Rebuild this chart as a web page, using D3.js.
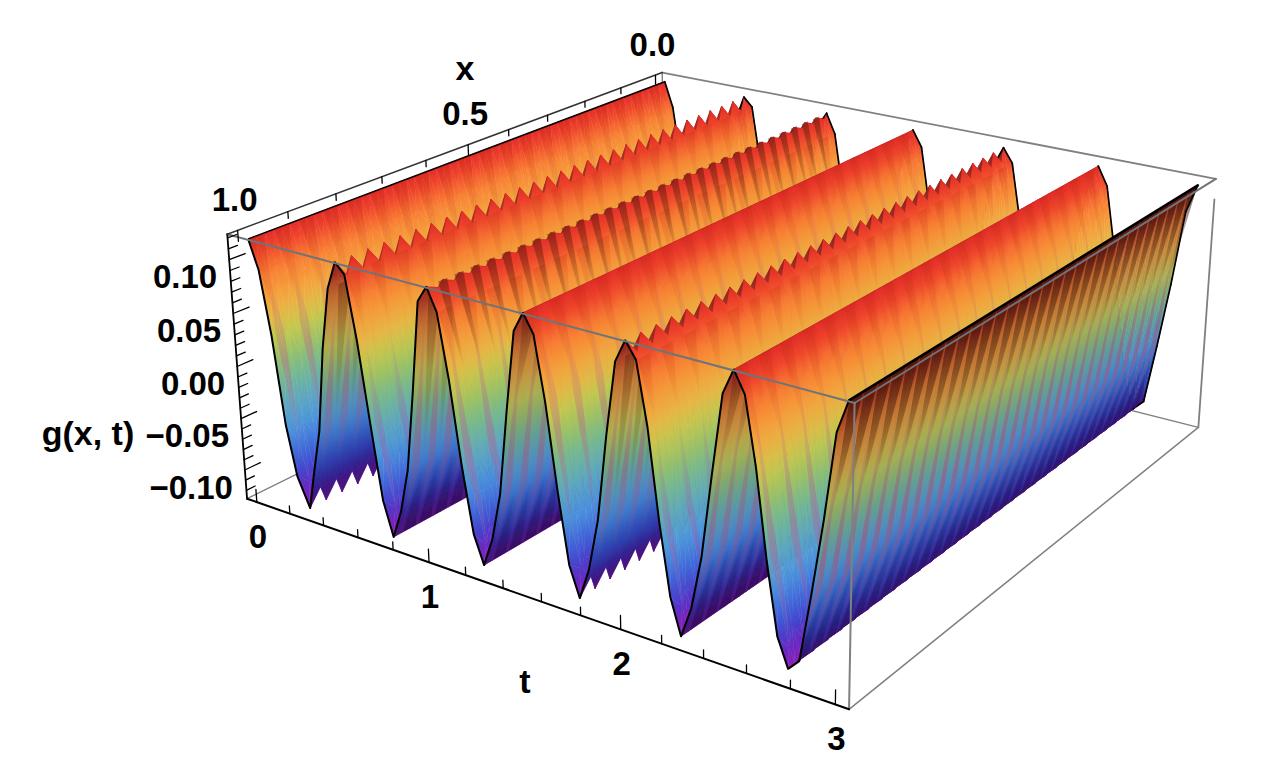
<!DOCTYPE html>
<html><head><meta charset="utf-8">
<script src="https://cdnjs.cloudflare.com/ajax/libs/d3/7.8.5/d3.min.js"></script>
<style>html,body{margin:0;padding:0;background:#fff}svg{display:block}text{font-family:"Liberation Sans",Arial,sans-serif;font-weight:bold;fill:#000}</style>
</head><body><div id="c"></div>
<script>
// ---------- data ----------
const tRowA = [0,.05,.1,.15,.2,.265,.3,.35,.4,.45,.5,.55,.6,.65,.7,.75,.8,.85,.9,.95,1,1.05,1.1,1.15,1.2,1.25,1.3,1.35,1.4,1.45,1.5,1.55,1.6,1.65,1.7,1.75,1.8,1.85,1.9,1.95,2,2.05,2.1,2.15,2.2,2.25,2.3,2.35,2.4,2.45,2.5,2.55,2.6,2.65,2.7,2.75,2.8,2.85,2.9,2.95,3];
const gRowA = [.118,.0915,.033,-.05,-.097,-.124,-.09,-.045,.035,.092,.118,.109,.052,-.022,-.092,-.124,-.097,-.055,.02,.103,.118,.098,.04,-.035,-.095,-.121,-.094,-.05,.028,.1,.118,.102,.045,-.03,-.094,-.121,-.092,-.045,.032,.098,.118,.104,.05,-.028,-.092,-.124,-.096,-.048,.026,.096,.118,.1,.043,-.033,-.095,-.12,-.11,-.05,.015,.09,.118];
const tRowB = [0,.07,.12,.17,.22,.285,.32,.37,.42,.47,.52,.57,.62,.67,.72,.75,.82,.87,.92,.97,1.02,1.07,1.12,1.17,1.22,1.25,1.32,1.37,1.42,1.47,1.5,1.57,1.62,1.67,1.72,1.77,1.82,1.87,1.92,1.97,2.02,2.07,2.12,2.17,2.22,2.25,2.32,2.37,2.42,2.47,2.5,2.57,2.62,2.67,2.72,2.75,2.82,2.87,2.92,2.97,3];
const gRowB = [.118,.075,.005,-.068,-.104,-.106,-.072,-.012,.06,.098,.104,.086,.024,-.05,-.102,-.124,-.082,-.028,.052,.112,.115,.078,.012,-.058,-.108,-.121,-.078,-.02,.058,.11,.118,.082,.018,-.055,-.1,-.104,-.076,-.016,.06,.102,.106,.084,.022,-.052,-.104,-.124,-.08,-.02,.054,.11,.118,.08,.016,-.058,-.108,-.12,-.1,-.024,.046,.112,.118];
const ridgeIndex = [0,10,20,30,40,50];
const toothedRidges = [10,20,40];
const toothedValleys = [5,35];
const shadowedRidges = [20];
const tLabels = ["0","1","2","3"];
const xLabels = ["0.0","0.5","1.0"];
const zLabels = ["0.10","0.05","0.00","\u22120.05","\u22120.10"];
const zStops = [-.118,-.11,-.098,-.08,-.055,-.03,-.005,.015,.033,.05,.07,.09,.105,.118];
const zColors = ["#8a20b8","#6f25c0","#4a3ac8","#3f62d8","#4c94dc","#60a9bc","#78ba8c","#9ec263","#c6c84e","#e8b645","#f69c3a","#f87a32","#f0462c","#e22c28"];

// ---------- scales and projection ----------
const W=1263,H=774;
const uS=d3.scaleLinear([-.06,3.06],[0,1]);
const vS=d3.scaleLinear([1.02,-.02],[0,1]);
const wS=d3.scaleLinear([-.1283,.1234],[0,1]);
const colorS=d3.scaleLinear(zStops,zColors).interpolate(d3.interpolateRgb).clamp(true);
const riseShade=d3.scaleLinear([-.118,-.09,-.04,.03,.08,.118],[.55,.68,.85,.88,.78,.62]).clamp(true);

const cube=[[0,0,0,248,503],[1,0,0,849,708],[0,0,1,226,235],[1,0,1,855,398],[0,1,1,662,76],[1,1,1,1217,178],[1,1,0,1197,433],[0,1,0,665,285]];
function fit(){
  const A=[],b=[];
  cube.forEach(([u,v,w,X,Y])=>{
    A.push([u,v,w,1,0,0,0,0,-X*u,-X*v,-X*w]);b.push(X);
    A.push([0,0,0,0,u,v,w,1,-Y*u,-Y*v,-Y*w]);b.push(Y);
  });
  const n=11,M=d3.range(n).map(i=>d3.range(n+1).map(j=>j<n?d3.sum(A,r=>r[i]*r[j]):d3.sum(A,(r,k)=>r[i]*b[k])));
  for(let i=0;i<n;i++){
    let p=i;for(let k=i+1;k<n;k++)if(Math.abs(M[k][i])>Math.abs(M[p][i]))p=k;
    [M[i],M[p]]=[M[p],M[i]];
    for(let k=0;k<n;k++)if(k!==i){const f=M[k][i]/M[i][i];for(let j=i;j<=n;j++)M[k][j]-=f*M[i][j];}
  }
  return M.map((r,i)=>r[n]/r[i]);
}
const h=fit();
function cubeP(u,v,w){const d=1+h[8]*u+h[9]*v+h[10]*w;return [(h[0]*u+h[1]*v+h[2]*w+h[3])/d,(h[4]*u+h[5]*v+h[6]*w+h[7])/d];}
const proj=(t,x,z)=>cubeP(uS(t),vS(x),wS(z));

// ---------- svg ----------
const svg=d3.select("#c").append("svg").attr("width",W).attr("height",H).attr("viewBox",`0 0 ${W} ${H}`);
const defs=svg.append("defs");
defs.append("filter").attr("id","soft").attr("filterUnits","userSpaceOnUse").attr("x",0).attr("y",0).attr("width",W).attr("height",H)
  .append("feGaussianBlur").attr("stdDeviation",.55);
const line=d3.line();
function seg(parent,a,b,col,wd){parent.append("path").attr("d",line([a,b])).attr("fill","none").attr("stroke",col).attr("stroke-width",wd).attr("stroke-linecap","round");}

// back box edges (behind the surface)
const back=svg.append("g");
seg(back,cubeP(0,0,0),cubeP(0,1,0),"#808080",1.4);
seg(back,cubeP(0,1,0),cubeP(1,1,0),"#808080",1.4);
seg(back,cubeP(0,1,0),cubeP(0,1,1),"#808080",1.4);
seg(back,cubeP(0,1,1),cubeP(1,1,1),"#808080",1.8);
seg(back,cubeP(1,1,.92),cubeP(1,1,0),"#808080",1.8);

// ---------- surface ----------
const rows=d3.range(0,61).map(j=>1-j/60);
const rowPoint=(j,i)=>(j%2===0)?{t:tRowA[i],z:gRowA[i],x:rows[j]}:{t:tRowB[i],z:gRowB[i],x:rows[j]};
const surf=svg.append("g").attr("filter","url(#soft)");
let gid=0;
function shadedColor(z,rising){
  const c=d3.rgb(colorS(z));
  if(!rising)return c.formatHex();
  const f=riseShade(z);
  return d3.rgb(c.r*f,c.g*f,c.b*Math.min(1,f*1.15)).formatHex();
}
function tri(pts,rising){
  const P=pts.map(p=>proj(p.t,p.x,p.z)),Z=pts.map(p=>p.z);
  const e1=[P[1][0]-P[0][0],P[1][1]-P[0][1]],e2=[P[2][0]-P[0][0],P[2][1]-P[0][1]];
  const dz1=Z[1]-Z[0],dz2=Z[2]-Z[0],det=e1[0]*e2[1]-e1[1]*e2[0];
  const d=line(P)+"Z";
  const lo=d3.min(Z),hi=d3.max(Z);
  let paint;
  if(Math.abs(det)<1e-3||hi-lo<.0015){paint=shadedColor((lo+hi)/2,rising);}
  else{
    const gx=(dz1*e2[1]-dz2*e1[1])/det,gy=(e1[0]*dz2-e2[0]*dz1)/det,g2=gx*gx+gy*gy;
    const a=(lo-Z[0])/g2,b=(hi-Z[0])/g2;
    const id="g"+(gid++);
    const lg=defs.append("linearGradient").attr("id",id).attr("gradientUnits","userSpaceOnUse")
      .attr("x1",P[0][0]+gx*a).attr("y1",P[0][1]+gy*a).attr("x2",P[0][0]+gx*b).attr("y2",P[0][1]+gy*b);
    const n=Math.max(1,Math.ceil((hi-lo)/.014));
    for(let k=0;k<=n;k++)lg.append("stop").attr("offset",k/n).attr("stop-color",shadedColor(lo+(hi-lo)*k/n,rising));
    paint=`url(#${id})`;
  }
  surf.append("path").attr("d",d).attr("fill",paint).attr("stroke",paint).attr("stroke-width",.5).attr("stroke-linejoin","round");
}
function stripe(iTop,iWide,iBot,j,halfRows,col,alpha,peak){
  const x=rows[j],dx=halfRows/60;
  const a=proj(tRowA[iTop],x,gRowA[iTop]),b=proj(tRowA[iBot],x,gRowA[iBot]);
  const c=proj(tRowA[iWide],x+dx,gRowA[iWide]),e=proj(tRowA[iWide],x-dx,gRowA[iWide]);
  const id="g"+(gid++);
  const lg=defs.append("linearGradient").attr("id",id).attr("gradientUnits","userSpaceOnUse")
    .attr("x1",a[0]).attr("y1",a[1]).attr("x2",b[0]).attr("y2",b[1]);
  [[0,0],[peak,alpha],[1,0]].forEach(([o,al])=>lg.append("stop").attr("offset",o).attr("stop-color",col).attr("stop-opacity",al));
  surf.append("path").attr("d",line([a,c,b,e])+"Z").attr("fill",`url(#${id})`);
}
function wedge(iBase,iTip,j,halfRows,col,alpha){
  const x=rows[j],dx=halfRows/60;
  const a=proj(tRowA[iBase],x+dx,gRowA[iBase]),c=proj(tRowA[iBase],x-dx,gRowA[iBase]),b=proj(tRowA[iTip],x,gRowA[iTip]);
  const m=[(a[0]+c[0])/2,(a[1]+c[1])/2];
  const id="g"+(gid++);
  const lg=defs.append("linearGradient").attr("id",id).attr("gradientUnits","userSpaceOnUse")
    .attr("x1",m[0]).attr("y1",m[1]).attr("x2",b[0]).attr("y2",b[1]);
  lg.append("stop").attr("offset",0).attr("stop-color",col).attr("stop-opacity",alpha);
  lg.append("stop").attr("offset",1).attr("stop-color",col).attr("stop-opacity",0);
  surf.append("path").attr("d",line([a,b,c])+"Z").attr("fill",`url(#${id})`);
}
function fallingStripes(r){
  const rt=toothedRidges.includes(r), vt=toothedValleys.includes(r+5);
  const end=vt?r+4:r+5;
  for(let j=1;j<59;j+=3){
    const k=(j+r/10)%3;
    if(k<1){stripe(r+1,r+3,end,j,.5,"#b85a96",.42,.55);}
    else if(k<2){stripe(r+1,r+2,r+4,j,.5,"#c2588a",.36,.45);}
    else{stripe(r+2,r+3,end,j,.45,"#a855a8",.36,.6);}
    wedge(rt?r+1:r,r+2,j,.8,"#b0200c",.18);
  }
  if(shadowedRidges.includes(r)){
    for(let j=2;j<60;j+=2)wedge(r,r+2,j,.55,"#3a1204",.42);
  }
}
function risingStripes(r){
  const top=r+10,val=r+5;
  const rt=toothedRidges.includes(top), vt=toothedValleys.includes(val), last=top===60;
  for(let j=1;j<60;j+=2){
    if(rt) wedge(top-1,top-3,j+1,.7,"#2a0c00",.28);
    else wedge(top,top-2,j,.95,"#2a0c00",last?.58:.34);
    stripe(vt?val+1:val,val+2,val+4,j,.5,"#a8507a",last?.55:.42,.42);
    if(!vt) wedge(val,val+2,j+1,.8,"#14083a",.34);
  }
}
const rN=rows.length-1;
for(let i=0;i<60;i++){
  const rising=gRowA[i+1]>gRowA[i];
  for(let j=rN-1;j>=0;j--){
    const p=rowPoint(j,i),q=rowPoint(j,i+1),r=rowPoint(j+1,i),s=rowPoint(j+1,i+1);
    tri([p,q,r],rising);
    tri([q,s,r],rising);
  }
  if(i===0)surf.append("path").attr("d",line([proj(0,1,gRowA[0]),proj(0,0,gRowA[0])])).attr("stroke","#000").attr("stroke-width",1.5).attr("fill","none");
  const after=ridgeIndex.find(r=>r+4===i);
  if(after!==undefined)fallingStripes(after);
  const after2=ridgeIndex.find(r=>r+9===i);
  if(after2!==undefined)risingStripes(after2);
  seg(surf,proj(tRowA[i],0,gRowA[i]),proj(tRowA[i+1],0,gRowA[i+1]),"#000",1.7);
}
svg.append("path").attr("d",line(tRowA.map((t,i)=>proj(t,1,gRowA[i])))).attr("fill","none").attr("stroke","#000").attr("stroke-width",2).attr("stroke-linejoin","round");
seg(svg,proj(3,1,gRowA[60]),proj(3,0,gRowA[60]),"#000",2.6);

// ---------- front box edges ----------
const fr=svg.append("g");
seg(fr,cubeP(0,0,1),cubeP(1,0,1),"#6f7478",2);
seg(fr,cubeP(1,0,1),cubeP(1,1,1),"#6f7478",2);
seg(fr,cubeP(1,0,1),cubeP(1,0,0),"#808080",2);
seg(fr,cubeP(1,0,0),cubeP(1,1,0),"#808080",1.5);

// ---------- axes ----------
const ax=svg.append("g");
seg(ax,cubeP(0,0,0),cubeP(1,0,0),"#000",2);
seg(ax,cubeP(0,0,0),cubeP(0,0,1),"#000",1.8);
seg(ax,cubeP(0,0,1),cubeP(0,1,1),"#333",1.6);
const isInt=(v,s)=>Math.abs(v/s-Math.round(v/s))<1e-6;
uS.ticks(15).forEach(t=>{const m=isInt(t,1),u=uS(t);seg(ax,cubeP(u,0,0),cubeP(u,0,m?.05:.03),"#000",1.3);});
vS.ticks(10).forEach(x=>{const m=isInt(x,.5),v=vS(x);seg(ax,cubeP(0,v,1),cubeP(0,v,m?.96:.975),"#000",1.3);});
wS.ticks(25).forEach(z=>{const m=isInt(z,.05),w=wS(z);seg(ax,cubeP(0,0,w),cubeP(0,m?.03:.017,w),"#000",1.3);});

function label(txt,x,y,anchor,fs){svg.append("text").text(txt).attr("x",x).attr("y",y).attr("text-anchor",anchor||"middle").attr("dy",".35em").attr("font-size",fs||33);}
tLabels.forEach(s=>{const p=cubeP(uS(+s),0,0);label(s,p[0]+1,p[1]+34);});
xLabels.forEach(s=>{const p=cubeP(0,vS(+s),1);label(s,p[0]-3,p[1]-31);});
zLabels.forEach(s=>{const p=cubeP(0,0,wS(+s.replace("\u2212","-")));label(s,p[0]-12,p[1]+17,"end");});
label("x",465,68,"middle",34);
label("t",525,681,"middle",34);
label("g(x, t)",88,433,"middle",34);
</script>
</body></html>
